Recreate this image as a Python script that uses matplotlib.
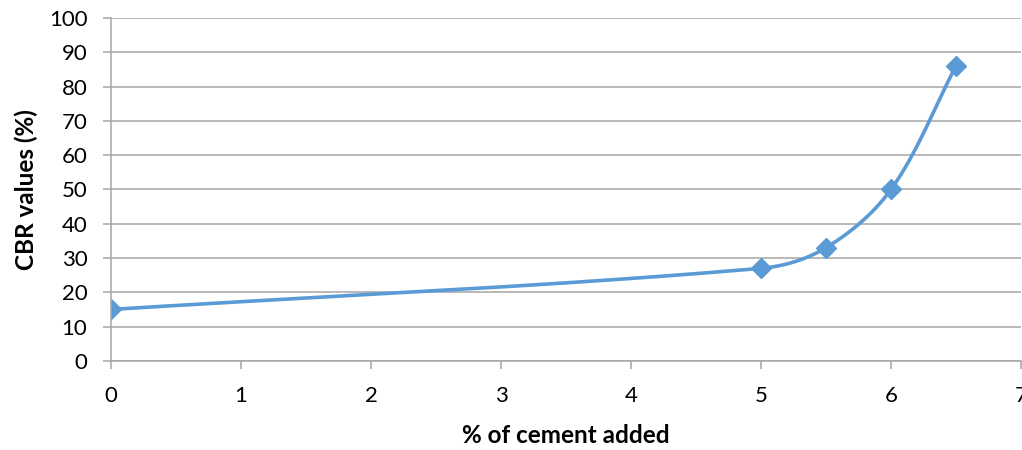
import numpy as np
import matplotlib.pyplot as plt

plt.rcParams['font.family'] = ['Lato', 'DejaVu Sans']

cemento = [0, 5, 5.5, 6, 6.5]
cbr = [15, 27, 33, 50, 86]
yticks = list(range(0, 101, 10))
xticks = list(range(0, 8))

fig = plt.figure(figsize=(10.22, 4.5), dpi=100)
ax = fig.add_axes([0.1086, 0.198, 0.8904, 0.762])

# curva suavizada (bezier), tangente limitada pelo tamanho de cada segmento
sx, sy = 130.0, 3.43
P = np.column_stack([np.array(cemento) * sx, np.array(cbr) * sy])
n = len(P)

def tangente(i):
    d = P[min(i + 1, n - 1)] - P[max(i - 1, 0)]
    return d / np.linalg.norm(d)

curva = []
t = np.linspace(0, 1, 60)[:, None]
for i in range(n - 1):
    p1, p2 = P[i], P[i + 1]
    L = np.linalg.norm(p2 - p1)
    c1 = p1 + tangente(i) * L / 3
    c2 = p2 - tangente(i + 1) * L / 3
    seg = ((1 - t) ** 3) * p1 + 3 * ((1 - t) ** 2) * t * c1 + 3 * (1 - t) * t ** 2 * c2 + t ** 3 * p2
    curva.append(seg)
curva = np.vstack(curva)

ax.plot(curva[:, 0] / sx, curva[:, 1] / sy, color='#5B9BD5', lw=2.6, solid_capstyle='round')
ax.plot(cemento, cbr, 'D', color='#5B9BD5', markersize=10.5)

ax.set_xlim(0, 7)
ax.set_ylim(0, 100)
ax.set_xticks(xticks)
ax.set_yticks(yticks)
ax.grid(axis='y', color='#A6A6A6', lw=1.1)
ax.set_axisbelow(True)
for s in ['top', 'right']:
    ax.spines[s].set_visible(False)
for s in ['left', 'bottom']:
    ax.spines[s].set_color('#A6A6A6')
    ax.spines[s].set_linewidth(1.1)
ax.tick_params(axis='both', colors='#A6A6A6', length=6, width=1.1, labelsize=16, labelcolor='black')
ax.tick_params(axis='x', pad=12)
ax.tick_params(axis='y', pad=11)

ax.set_xlabel('% of cement added', fontsize=17.5, fontweight='bold', labelpad=13)
ax.set_ylabel('CBR values (%)', fontsize=17.5, fontweight='bold', labelpad=8)

fig.savefig('out.png', dpi=100)
